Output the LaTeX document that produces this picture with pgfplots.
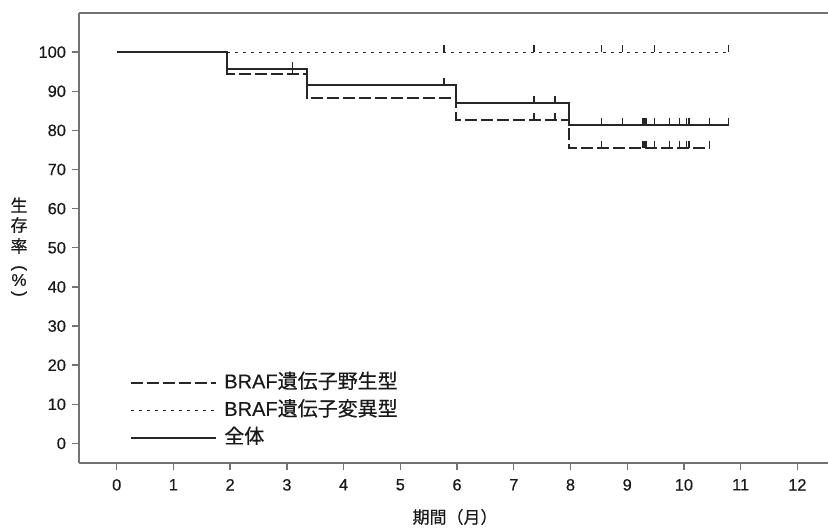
\documentclass[border=0pt]{standalone}
\usepackage{fontspec}
\setmainfont[FakeBold=0.4]{Liberation Sans}
\newfontfamily\jp[FakeBold=0.4]{Noto Sans CJK JP}
\usepackage{pgfplots}
\pgfplotsset{compat=1.18}
\definecolor{ax}{gray}{0.45}
\definecolor{ln}{gray}{0.15}
\begin{document}
\fontsize{8.5}{10}\selectfont
\begin{tikzpicture}
\begin{axis}[
  scale only axis, width=374.5pt, height=225pt,
  xmin=-0.665, xmax=12.54, ymin=-5, ymax=110,
  separate axis lines, axis x line=bottom, axis y line=left,
  axis line style={-, draw=ax, line width=0.7pt},
  xtick={0,...,12}, ytick={0,10,...,100},
  tick align=outside, major tick length=3.5pt,
  tick style={draw=ax, line width=0.7pt},
  /pgf/number format/assume math mode=true,
  ticklabel style={font=\fontsize{8.2}{10}\selectfont, text=black!90},
  xticklabel style={yshift=-1.5pt},
  clip=false,
  legend cell align=left,
  legend image code/.code={\draw[#1] (0pt,0pt) -- (42.5pt,0pt);},
  legend style={draw=none, fill=none, at={(0.068,0.036)}, anchor=south west,
    inner sep=0pt, row sep=5.25pt, column sep=3.5pt,
    nodes={inner sep=0pt, text height=7pt, text depth=1.5pt, text=black!90, font=\fontsize{10}{12}\selectfont},
  },
]
% BRAF wild type (dashed)
\addplot[const plot, ln, line width=1pt, dash pattern=on 6pt off 2pt] coordinates {
  (0,100) (1.95,94.5) (3.35,88.3) (5.99,82.7) (7.97,75.6) (10.45,75.6)};
\addlegendentry{BRAF{\jp 遺伝子野生型}}
% BRAF mutant (dotted)
\addplot[const plot, ln, line width=0.55pt, dash pattern=on 1.5pt off 2.5pt] coordinates {
  (1.95,100) (10.79,100)};
\addlegendentry{BRAF{\jp 遺伝子変異型}}
% overall (solid)
\addplot[const plot, ln, line width=1pt] coordinates {
  (0,100) (1.95,95.8) (3.35,91.5) (5.99,87.0) (7.97,81.5) (10.79,81.5)};
\addlegendentry{{\jp 全体}}
% censor marks
\pgfplotsset{cens/.style={forget plot, only marks, mark=|, mark size=1.75pt,
  mark options={solid, line width=0.7pt, draw=ln, yshift=1.75pt}}}
\addplot[cens] coordinates {
  (3.1,94.5) (7.36,82.7) (7.73,82.7) (8.55,75.6) (9.28,75.6) (9.31,75.6) (9.34,75.6)
  (9.48,75.6) (9.75,75.6) (9.92,75.6) (10.04,75.6) (10.09,75.6) (10.45,75.6)};
\addplot[cens] coordinates {
  (5.77,100) (7.36,100) (8.55,100) (8.92,100) (9.48,100) (10.79,100)};
\addplot[cens] coordinates {
  (3.1,95.8) (5.77,91.5) (7.36,87.0) (7.73,87.0) (8.55,81.5) (8.92,81.5) (9.28,81.5)
  (9.31,81.5) (9.34,81.5) (9.48,81.5) (9.75,81.5) (9.92,81.5) (10.04,81.5) (10.09,81.5)
  (10.45,81.5) (10.79,81.5)};
\draw[ax, line width=0.7pt] (rel axis cs:0,1) -- (rel axis cs:1,1);
\end{axis}
\begin{scope}[every node/.style={inner sep=0pt, text=black!90}]
\node[font=\jp\fontsize{8.5}{10}\selectfont] at (-30pt,129pt) {生};
\node[font=\jp\fontsize{8.5}{10}\selectfont] at (-30pt,119pt) {存};
\node[font=\jp\fontsize{8.5}{10}\selectfont] at (-30pt,108.5pt) {率};
\node[rotate=-90] at (-30pt,97.5pt) {(};
\node at (-30pt,91.5pt) {\%};
\node[rotate=-90] at (-30pt,84.5pt) {)};
\node[font=\jp\fontsize{8.5}{10}\selectfont] at (188pt,-27pt) {期間（月）};
\end{scope}
\pgfresetboundingbox
\useasboundingbox (-39.5pt,-33pt) rectangle (374.5pt,231.5pt);
\end{tikzpicture}
\end{document}
